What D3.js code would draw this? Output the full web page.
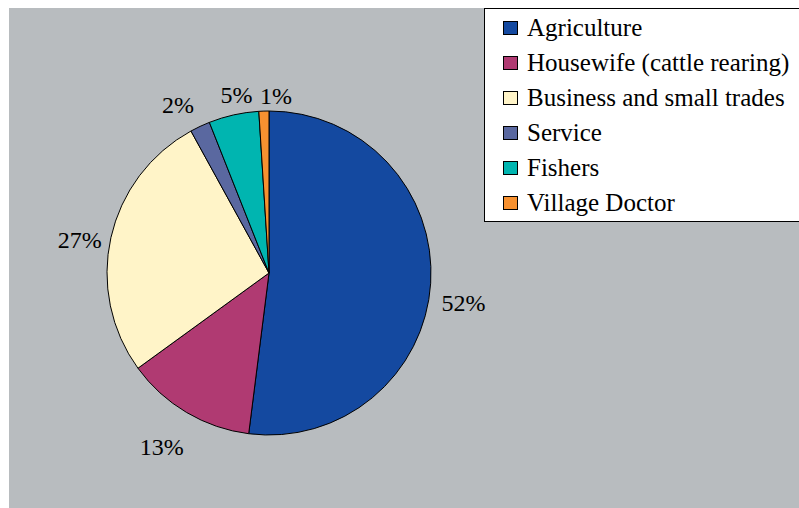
<!DOCTYPE html>
<html><head><meta charset="utf-8">
<script src="https://cdn.jsdelivr.net/npm/d3@7"></script>
<style>html,body{margin:0;padding:0;background:#fff;font-family:"Liberation Serif",serif;}svg{display:block;font-family:"Liberation Serif",serif;}</style>
</head><body>
<svg id="chart" width="799" height="508" font-family="Liberation Serif" style="font-family:'Liberation Serif',serif"></svg>
<script>
const categories = ["Agriculture","Housewife (cattle rearing)","Business and small trades","Service","Fishers","Village Doctor"];
const values = [52, 13, 27, 2, 5, 1];
const labels = ["52%","13%","27%","2%","5%","1%"];
const colors = ["#1449a0","#b03a72","#fff4c8","#5a68a0","#00b5b0","#f79130"];

const svg = d3.select("#chart");
svg.append("rect").attr("x",9).attr("y",8).attr("width",790).attr("height",500).attr("fill","#b8bcbf");

const cx = 269, cy = 273, R = 162;
const pie = d3.pie().sort(null).value(d=>d)(values);
const arc = d3.arc().innerRadius(0).outerRadius(R);
const g = svg.append("g").attr("transform",`translate(${cx},${cy})`);
g.selectAll("path").data(pie).join("path")
  .attr("d",arc).attr("fill",(d,i)=>colors[i])
  .attr("stroke","#000").attr("stroke-width",1);

// label placement: outside end, with small layout nudges similar to the original
const labelR = 195;
const nudge = [[0,18],[-8,6],[1,10],[-8,8],[10,12],[13,18]];
g.selectAll("text").data(pie).join("text")
  .attr("x",(d,i)=>Math.sin((d.startAngle+d.endAngle)/2)*labelR + nudge[i][0])
  .attr("y",(d,i)=>-Math.cos((d.startAngle+d.endAngle)/2)*labelR + nudge[i][1] + 8)
  .attr("text-anchor","middle")
  .style("font-family","'Liberation Serif', serif")
  .style("font-size","24px").attr("fill","#000")
  .text((d,i)=>labels[i]);

// legend
const lg = svg.append("g");
lg.append("rect").attr("x",484.5).attr("y",8.5).attr("width",330).attr("height",213)
  .attr("fill","#fff").attr("stroke","#000").attr("stroke-width",1);
const ly = d3.scalePoint().domain(categories).range([28,203]);
const items = lg.selectAll("g.item").data(categories).join("g").attr("class","item")
  .attr("transform",d=>`translate(0,${ly(d)})`);
items.append("rect").attr("x",503.5).attr("y",-6.5).attr("width",14).attr("height",13)
  .attr("fill",(d,i)=>colors[i]).attr("stroke","#000").attr("stroke-width",1);
items.append("text").attr("x",527).attr("y",8)
  .style("font-family","'Liberation Serif', serif")
  .style("font-size","25px").attr("fill","#000").text(d=>d);
</script>
</body></html>
